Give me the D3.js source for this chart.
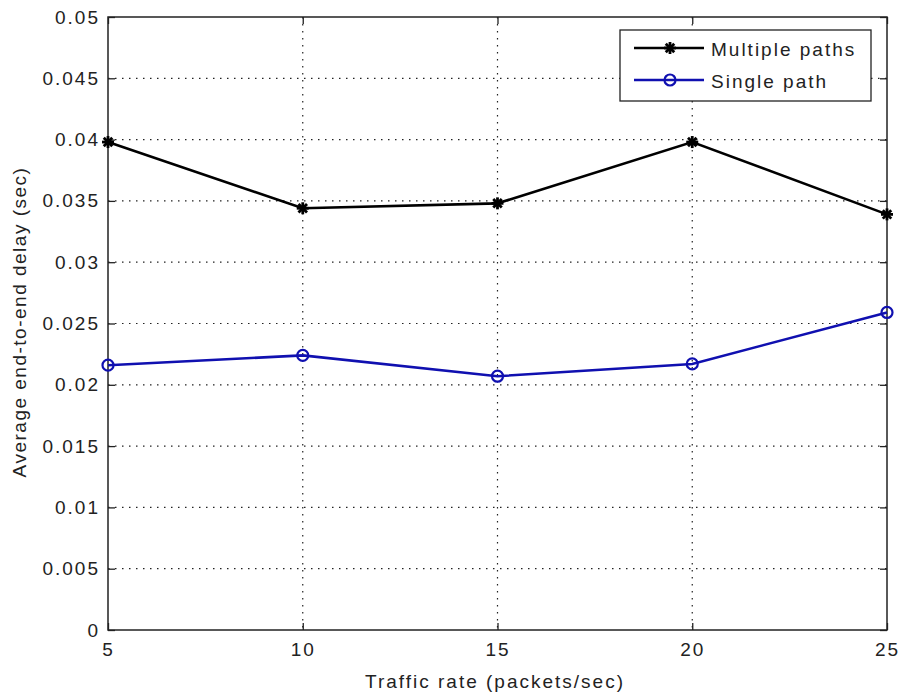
<!DOCTYPE html>
<html>
<head>
<meta charset="utf-8">
<script src="https://cdn.jsdelivr.net/npm/d3@7"></script>
<style>
  body { margin: 0; background: #fff; }
  text { font-family: "Liberation Sans", Arial, sans-serif; fill: #222; }
</style>
</head>
<body>
<div id="chart"></div>
<script>
// Data
const rates = [5, 10, 15, 20, 25];
const multiplePaths = [0.0398, 0.0344, 0.0348, 0.0398, 0.0339];
const singlePath = [0.0216, 0.0224, 0.0207, 0.0217, 0.0259];
const yTicks = [0, 0.005, 0.01, 0.015, 0.02, 0.025, 0.03, 0.035, 0.04, 0.045, 0.05];
const seriesNames = ['Multiple paths', 'Single path'];

const figure_width = 905, figure_height = 696;
const margin = { top: 17, right: 18, bottom: 66, left: 108 },
    plot_width = figure_width - margin.left - margin.right,
    plot_height = figure_height - margin.top - margin.bottom;

const svg = d3.select('div#chart')
  .append('svg')
    .attr('width', figure_width)
    .attr('height', figure_height)
  .append('g')
    .attr('transform', 'translate(' + margin.left + ',' + margin.top + ')');

const x = d3.scaleLinear().domain([5, 25]).range([0, plot_width]);
const y = d3.scaleLinear().domain([0, 0.05]).range([plot_height, 0]);

// dotted grid
svg.append('g')
  .selectAll('line')
  .data(rates.slice(1, -1))
  .enter().append('line')
    .attr('x1', d => x(d)).attr('x2', d => x(d))
    .attr('y1', 0).attr('y2', plot_height)
    .attr('stroke', '#222').attr('stroke-width', 1.2)
    .attr('stroke-dasharray', '1.5,5.5');
svg.append('g')
  .selectAll('line')
  .data(yTicks.slice(1, -1))
  .enter().append('line')
    .attr('x1', 0).attr('x2', plot_width)
    .attr('y1', d => y(d)).attr('y2', d => y(d))
    .attr('stroke', '#222').attr('stroke-width', 1.2)
    .attr('stroke-dasharray', '1.5,5.5');

// axes with inward ticks, MATLAB style box
const tickLen = 7;
const fmt = d => d === 0 ? '0' : String(+d.toFixed(3));
svg.append('g')
  .attr('transform', 'translate(0,' + plot_height + ')')
  .call(d3.axisBottom(x).tickValues(rates).tickSizeInner(-tickLen).tickSizeOuter(0).tickPadding(13));
svg.append('g')
  .call(d3.axisLeft(y).tickValues(yTicks).tickFormat(fmt).tickSizeInner(-tickLen).tickSizeOuter(0).tickPadding(8));
svg.append('g')
  .call(d3.axisTop(x).tickValues(rates).tickFormat('').tickSizeInner(-tickLen).tickSizeOuter(0));
svg.append('g')
  .attr('transform', 'translate(' + plot_width + ',0)')
  .call(d3.axisRight(y).tickValues(yTicks).tickFormat('').tickSizeInner(-tickLen).tickSizeOuter(0));
svg.selectAll('.domain').remove();
svg.selectAll('.tick line').attr('stroke', '#222').attr('stroke-width', 1.3);
svg.selectAll('.tick text').style('font-size', '19px').style('letter-spacing', '2px').attr('fill', '#222')
  .style('font-family', '"Liberation Sans", Arial, sans-serif');

svg.append('rect')
  .attr('width', plot_width).attr('height', plot_height)
  .attr('fill', 'none').attr('stroke', '#222').attr('stroke-width', 1.5);

// lines
const line = d3.line().x((d, i) => x(rates[i])).y(d => y(d));
svg.append('path').datum(multiplePaths)
  .attr('d', line).attr('fill', 'none').attr('stroke', '#000').attr('stroke-width', 2.6);
svg.append('path').datum(singlePath)
  .attr('d', line).attr('fill', 'none').attr('stroke', '#1010b0').attr('stroke-width', 2.6);

// asterisk marker
function asterisk(g, cx, cy) {
  const r = 6;
  [0, 45, 90, 135].forEach(function(a) {
    const dx = r * Math.cos(a * Math.PI / 180), dy = r * Math.sin(a * Math.PI / 180);
    g.append('line')
      .attr('x1', cx - dx).attr('y1', cy - dy).attr('x2', cx + dx).attr('y2', cy + dy)
      .attr('stroke', '#000').attr('stroke-width', 2.8);
  });
}
const mk = svg.append('g');
multiplePaths.forEach(function(d, i) { asterisk(mk, x(rates[i]), y(d)); });

svg.append('g')
  .selectAll('circle')
  .data(singlePath)
  .enter().append('circle')
    .attr('cx', (d, i) => x(rates[i]))
    .attr('cy', d => y(d))
    .attr('r', 5.5)
    .attr('fill', 'none').attr('stroke', '#1010b0').attr('stroke-width', 2.2);

// axis titles
svg.append('text')
  .attr('x', 495 - margin.left).attr('y', plot_height + 58)
  .attr('text-anchor', 'middle').style('font-size', '19px').style('letter-spacing', '2px')
  .text('Traffic rate (packets/sec)');
svg.append('text')
  .attr('transform', 'translate(' + (-82) + ',' + (322 - margin.top) + ') rotate(-90)')
  .attr('text-anchor', 'middle').style('font-size', '19px').style('letter-spacing', '1.5px')
  .text('Average end-to-end delay (sec)');

// legend
const legend = svg.append('g').attr('transform', 'translate(' + (620 - margin.left) + ',' + (30 - margin.top) + ')');
legend.append('rect')
  .attr('width', 251).attr('height', 71)
  .attr('fill', '#fff').attr('stroke', '#222').attr('stroke-width', 1.3);
const rowY = [18, 50];
seriesNames.forEach(function(name, i) {
  const col = i === 0 ? '#000' : '#1010b0';
  legend.append('line')
    .attr('x1', 14).attr('x2', 84).attr('y1', rowY[i]).attr('y2', rowY[i])
    .attr('stroke', col).attr('stroke-width', 2.6);
  if (i === 0) asterisk(legend, 50, rowY[i]);
  else legend.append('circle').attr('cx', 50).attr('cy', rowY[i]).attr('r', 5.5)
    .attr('fill', 'none').attr('stroke', col).attr('stroke-width', 2.2);
  legend.append('text')
    .attr('x', 91).attr('y', rowY[i] + 8)
    .style('font-size', '19px').style('letter-spacing', '2px')
    .text(name);
});
</script>
</body>
</html>
